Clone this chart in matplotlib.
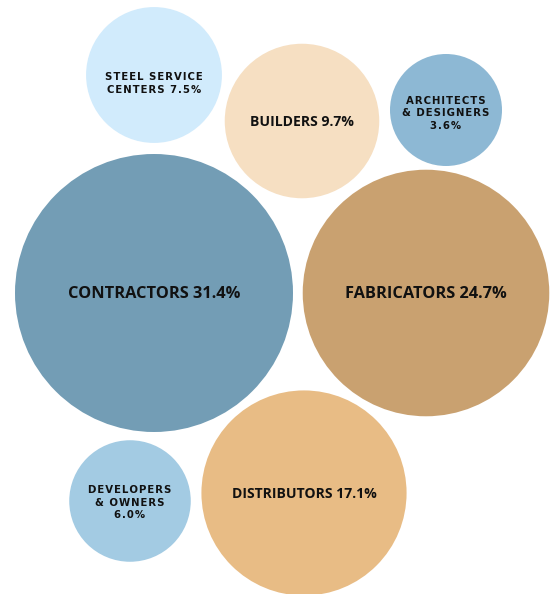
import matplotlib
matplotlib.use("Agg")
import matplotlib.pyplot as plt
from matplotlib.patches import Circle
import numpy as np

# Data
categories = ["CONTRACTORS", "FABRICATORS", "DISTRIBUTORS", "BUILDERS",
              "STEEL SERVICE\nCENTERS", "ARCHITECTS\n& DESIGNERS", "DEVELOPERS\n& OWNERS"]
shares = [31.4, 24.7, 17.1, 9.7, 7.5, 3.6, 6.0]

# Layout / style (pixels)
centers = [(154, 293), (426, 293), (304, 493), (302, 121), (154, 75), (446, 110), (130, 501)]
label_dy = [1.5, 1.5, 1, 1, 8.5, 3.5, 1.5]
colors = ["#739db5", "#c9a170", "#e8bc85", "#f6dfc2", "#d1ebfc", "#8db8d4", "#a3cbe3"]
big = [True, True, True, True, False, False, False]
scale = 139 / np.sqrt(31.4)
min_r = 56
HAIR = "\u200a"


def spaced(s):
    return "\n".join(HAIR.join(line) for line in s.split("\n"))


fig = plt.figure(figsize=(5.5, 5.94), dpi=100)
ax = fig.add_axes([0, 0, 1, 1])
ax.set_xlim(0, 550)
ax.set_ylim(594, 0)
ax.set_aspect("equal")
ax.axis("off")

for cat, v, (cx, cy), dy, c, b in zip(categories, shares, centers, label_dy, colors, big):
    r = max(scale * np.sqrt(v), min_r)
    ax.add_patch(Circle((cx, cy), r, color=c, lw=0))
    if b:
        ax.text(cx, cy + dy, f"{cat} {v:.1f}%", ha="center", va="center",
                fontsize=11.8 if v > 20 else 10.1, fontweight="bold",
                family="Open Sans", color="#111111")
    else:
        if cat.startswith("STEEL"):
            label = f"{cat} {v:.1f}%"
        else:
            label = f"{cat}\n{v:.1f}%"
        ax.text(cx, cy + dy, spaced(label), ha="center", va="center", fontsize=7.3,
                fontweight="bold", family="DejaVu Sans", color="#111111",
                linespacing=1.3)

fig.savefig("out.png", dpi=100)
